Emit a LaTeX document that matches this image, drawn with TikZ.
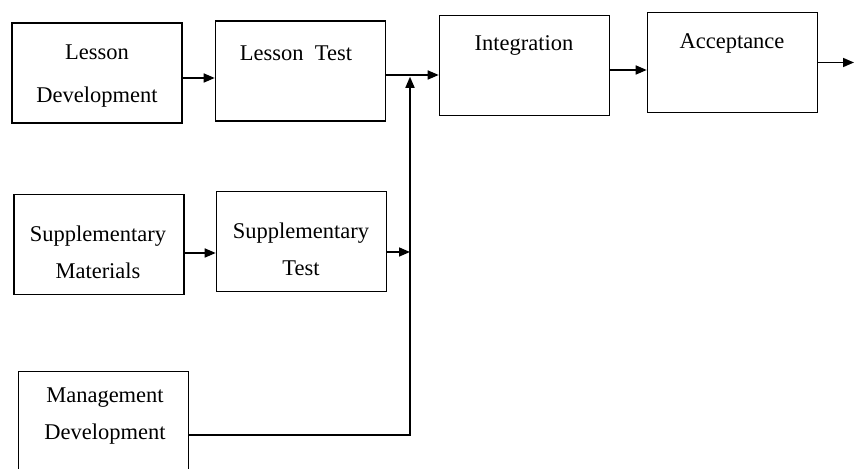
\documentclass[tikz,border=0pt]{standalone}
\usepackage{fontspec}
\setmainfont{Liberation Serif}
\usetikzlibrary{arrows.meta,positioning,calc}
\tikzset{
  >={Triangle[length=2.2mm,width=1.8mm]},
  % stufen
  stage/.style={draw=black,line width=0.9pt,minimum width=3.4cm,
                minimum height=2cm,inner sep=0pt},
  stxt/.style={align=center,font=\fontsize{12.8}{21}\selectfont,inner sep=0pt},
  % pfeile
  flow/.style={->,draw=black,line width=0.9pt},
}

\begin{document}
\begin{tikzpicture}[x=0.02cm,y=-0.02cm]
\useasboundingbox (0,0) rectangle (855,469);
  \node[stage] (ld) at (97,73) {};
  \node[stage] (lt) at (300.5,71) {};
  \node[stage] (int) at (524.5,65.5) {};
  \node[stage] (acc) at (732.5,62.5) {};
  \node[stage] (sm) at (99,244.5) {};
  \node[stage] (st) at (301.5,241.5) {};
  \node[stage] (md) at (103.5,421.5) {};
  \node[stxt] (ld-t) at (97,76) {Lesson\\[4pt]Development};
  \node[stxt] (lt-t) at (296,53) {Lesson\enspace Test};
  \node[stxt] (int-t) at (524,45) {Integration};
  \node[stxt] (acc-t) at (732,43) {Acceptance};
  \node[stxt] (sm-t) at (98,252.5) {Supplementary\\Materials};
  \node[stxt] (st-t) at (301,249.5) {Supplementary\\Test};
  \node[stxt] (md-t) at (105,416) {Management\\Development};
  \coordinate (j) at (410,75);
  \coordinate (b) at (410,435);
  \coordinate (out) at (854,62);
  \draw[flow] ([yshift=-1mm]ld.east) -- ([yshift=-1mm]ld.east -| lt.west);
  \draw[flow] (lt.east |- j) -- (j -| int.west);
  \draw[flow] ([yshift=-1.7mm]sm.east) -- ([yshift=-1.7mm]sm.east -| st.west);
  \draw[flow] ([yshift=-2.1mm]st.east) -- ([yshift=-2.1mm]st.east -| j);
  \draw[flow,shorten >=1pt] (md.east |- b) -- (b) -- (j);
  \draw[flow] ([yshift=-0.9mm]int.east) -- ([yshift=-0.9mm]int.east -| acc.west);
  \draw[flow] (acc.east) -- (acc.east -| out);
\end{tikzpicture}
\end{document}
